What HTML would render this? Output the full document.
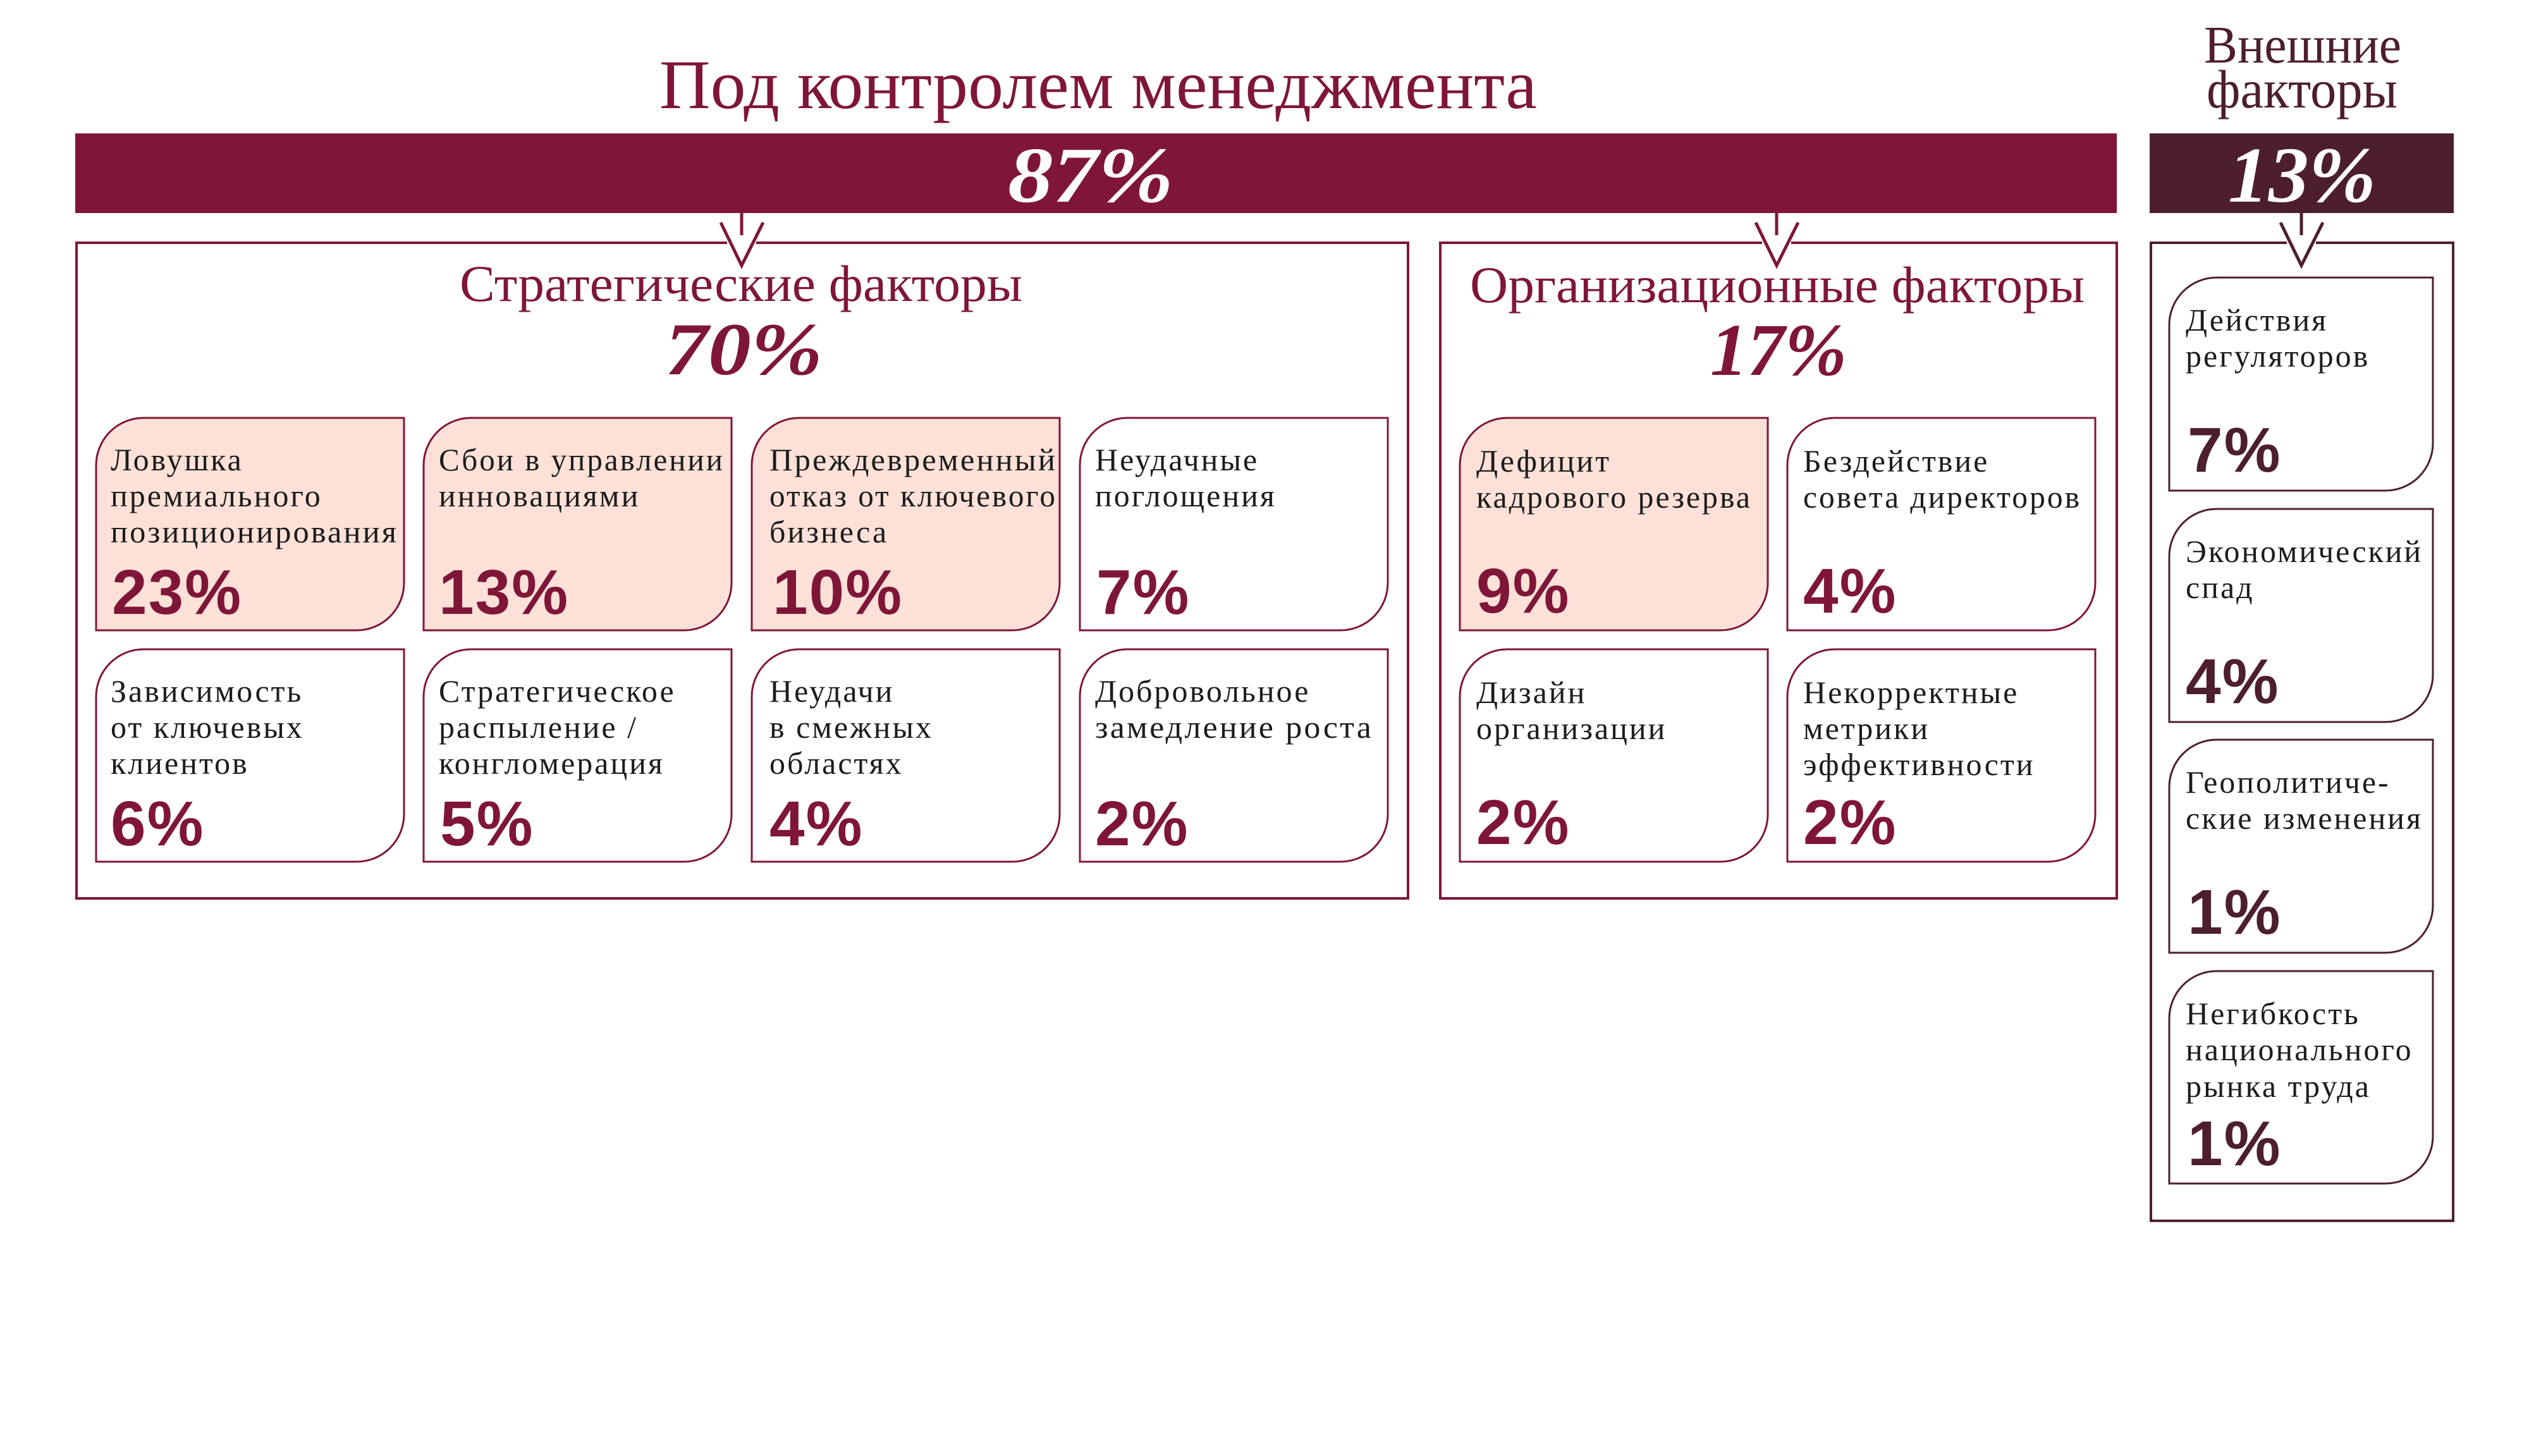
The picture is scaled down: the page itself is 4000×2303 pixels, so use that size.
<!DOCTYPE html>
<html><head><meta charset="utf-8"><style>
html,body{margin:0;padding:0;background:#fff;}
svg{display:block;}
.lab{font-family:"Liberation Serif",serif;font-size:50px;fill:#1c1c1c;letter-spacing:3px;}
.pct{font-family:"Liberation Sans",sans-serif;font-weight:bold;font-size:100px;fill:#7f1637;letter-spacing:2px;}
.pcte{font-family:"Liberation Sans",sans-serif;font-weight:bold;font-size:100px;fill:#4d1e30;letter-spacing:2px;}
.big{font-family:"Liberation Serif",serif;font-weight:bold;font-style:italic;}
.ttl{font-family:"Liberation Serif",serif;fill:#7f1637;}
</style></head><body>
<svg width="4000" height="2303" viewBox="0 0 4000 2303" xmlns="http://www.w3.org/2000/svg">
<rect width="4000" height="2303" fill="#fff"/>
<text class="ttl" x="1043" y="171" font-size="110" textLength="1388" lengthAdjust="spacingAndGlyphs">Под контролем менеджмента</text>
<text class="ttl" x="3486" y="99" font-size="84" textLength="312" lengthAdjust="spacingAndGlyphs" style="fill:#4d1e30">Внешние</text>
<text class="ttl" x="3490" y="170" font-size="86" textLength="302" lengthAdjust="spacingAndGlyphs" style="fill:#4d1e30">факторы</text>
<rect x="119" y="211" width="3229" height="126" fill="#7f1637"/>
<rect x="3400" y="211" width="481" height="126" fill="#4d1e30"/>
<text class="big" x="1594" y="319" font-size="125" fill="#fff" textLength="262" lengthAdjust="spacingAndGlyphs">87%</text>
<text class="big" x="3524" y="319" font-size="125" fill="#fff" textLength="234" lengthAdjust="spacingAndGlyphs">13%</text>
<g fill="none" stroke="#7f1637" stroke-width="4">
<rect x="121" y="384" width="2106" height="1037"/>
<rect x="2278" y="384" width="1070" height="1037"/>
<rect x="3402" y="384" width="478" height="1547" stroke="#4d1e30"/>
</g>
<g stroke-width="5" fill="none">
<g stroke="#7f1637">
<rect x="1150" y="378" width="46" height="10" fill="#fff" stroke="none"/>
<line x1="1173" y1="337" x2="1173" y2="372"/><polyline points="1140,352 1173,420 1207,352"/>
<rect x="2787" y="378" width="46" height="10" fill="#fff" stroke="none"/>
<line x1="2810" y1="337" x2="2810" y2="372"/><polyline points="2777,352 2810,420 2844,352"/>
</g>
<g stroke="#4d1e30">
<rect x="3617" y="378" width="46" height="10" fill="#fff" stroke="none"/>
<line x1="3640" y1="337" x2="3640" y2="372"/><polyline points="3607,352 3640,420 3674,352"/>
</g>
</g>
<text class="ttl" x="727" y="476" font-size="82" textLength="890" lengthAdjust="spacingAndGlyphs">Стратегические факторы</text>
<text class="big" x="1052" y="592" font-size="118" fill="#7f1637" textLength="249" lengthAdjust="spacingAndGlyphs">70%</text>
<text class="ttl" x="2325" y="478" font-size="82" textLength="972" lengthAdjust="spacingAndGlyphs">Организационные факторы</text>
<text class="big" x="2705" y="593" font-size="118" fill="#7f1637" textLength="216" lengthAdjust="spacingAndGlyphs">17%</text>

<g stroke="#7f1637" stroke-width="3">
<path d="M152,997 V736 A75,75 0 0 1 227,661 H639 V922 A75,75 0 0 1 564,997 Z" fill="#fde1d8"/>
<path d="M670,997 V736 A75,75 0 0 1 745,661 H1157 V922 A75,75 0 0 1 1082,997 Z" fill="#fde1d8"/>
<path d="M1189,997 V736 A75,75 0 0 1 1264,661 H1676 V922 A75,75 0 0 1 1601,997 Z" fill="#fde1d8"/>
<path d="M1708,997 V736 A75,75 0 0 1 1783,661 H2195 V922 A75,75 0 0 1 2120,997 Z" fill="#fff"/>
<path d="M152,1363 V1102 A75,75 0 0 1 227,1027 H639 V1288 A75,75 0 0 1 564,1363 Z" fill="#fff"/>
<path d="M670,1363 V1102 A75,75 0 0 1 745,1027 H1157 V1288 A75,75 0 0 1 1082,1363 Z" fill="#fff"/>
<path d="M1189,1363 V1102 A75,75 0 0 1 1264,1027 H1676 V1288 A75,75 0 0 1 1601,1363 Z" fill="#fff"/>
<path d="M1708,1363 V1102 A75,75 0 0 1 1783,1027 H2195 V1288 A75,75 0 0 1 2120,1363 Z" fill="#fff"/>
<path d="M2309,997 V736 A75,75 0 0 1 2384,661 H2796 V922 A75,75 0 0 1 2721,997 Z" fill="#fde1d8"/>
<path d="M2827,997 V736 A75,75 0 0 1 2902,661 H3314 V922 A75,75 0 0 1 3239,997 Z" fill="#fff"/>
<path d="M2309,1363 V1102 A75,75 0 0 1 2384,1027 H2796 V1288 A75,75 0 0 1 2721,1363 Z" fill="#fff"/>
<path d="M2827,1363 V1102 A75,75 0 0 1 2902,1027 H3314 V1288 A75,75 0 0 1 3239,1363 Z" fill="#fff"/>
</g>
<g stroke="#4d1e30" stroke-width="3" fill="#fff">
<path d="M3431,776 V514 A75,75 0 0 1 3506,439 H3848 V701 A75,75 0 0 1 3773,776 Z"/>
<path d="M3431,1142 V880 A75,75 0 0 1 3506,805 H3848 V1067 A75,75 0 0 1 3773,1142 Z"/>
<path d="M3431,1507 V1245 A75,75 0 0 1 3506,1170 H3848 V1432 A75,75 0 0 1 3773,1507 Z"/>
<path d="M3431,1872 V1611 A75,75 0 0 1 3506,1536 H3848 V1797 A75,75 0 0 1 3773,1872 Z"/>
</g>

<text class="lab" x="175" y="744">Ловушка</text>
<text class="lab" x="175" y="801">премиального</text>
<text class="lab" x="175" y="858" textLength="455" lengthAdjust="spacingAndGlyphs">позиционирования</text>
<text class="pct" x="177" y="971">23%</text>
<text class="lab" x="694" y="744" textLength="452" lengthAdjust="spacingAndGlyphs">Сбои в управлении</text>
<text class="lab" x="694" y="801">инновациями</text>
<text class="pct" x="694" y="971">13%</text>
<text class="lab" x="1217" y="744" textLength="455" lengthAdjust="spacingAndGlyphs">Преждевременный</text>
<text class="lab" x="1217" y="801" textLength="455" lengthAdjust="spacingAndGlyphs">отказ от ключевого</text>
<text class="lab" x="1217" y="858">бизнеса</text>
<text class="pct" x="1222" y="971">10%</text>
<text class="lab" x="1732" y="744">Неудачные</text>
<text class="lab" x="1732" y="801">поглощения</text>
<text class="pct" x="1734" y="971">7%</text>

<text class="lab" x="175" y="1110">Зависимость</text>
<text class="lab" x="175" y="1167">от ключевых</text>
<text class="lab" x="175" y="1224">клиентов</text>
<text class="pct" x="175" y="1337">6%</text>
<text class="lab" x="694" y="1110">Стратегическое</text>
<text class="lab" x="694" y="1167">распыление /</text>
<text class="lab" x="694" y="1224">конгломерация</text>
<text class="pct" x="696" y="1337">5%</text>
<text class="lab" x="1217" y="1110">Неудачи</text>
<text class="lab" x="1217" y="1167">в смежных</text>
<text class="lab" x="1217" y="1224">областях</text>
<text class="pct" x="1217" y="1337">4%</text>
<text class="lab" x="1732" y="1110">Добровольное</text>
<text class="lab" x="1732" y="1167" textLength="440" lengthAdjust="spacingAndGlyphs">замедление роста</text>
<text class="pct" x="1732" y="1337">2%</text>

<text class="lab" x="2335" y="746">Дефицит</text>
<text class="lab" x="2335" y="803" textLength="436" lengthAdjust="spacingAndGlyphs">кадрового резерва</text>
<text class="pct" x="2335" y="969">9%</text>
<text class="lab" x="2852" y="746">Бездействие</text>
<text class="lab" x="2852" y="803" textLength="440" lengthAdjust="spacingAndGlyphs">совета директоров</text>
<text class="pct" x="2852" y="969">4%</text>
<text class="lab" x="2335" y="1112">Дизайн</text>
<text class="lab" x="2335" y="1169">организации</text>
<text class="pct" x="2335" y="1335">2%</text>
<text class="lab" x="2852" y="1112">Некорректные</text>
<text class="lab" x="2852" y="1169">метрики</text>
<text class="lab" x="2852" y="1226">эффективности</text>
<text class="pct" x="2852" y="1335">2%</text>

<text class="lab" x="3457" y="523">Действия</text>
<text class="lab" x="3457" y="580">регуляторов</text>
<text class="pcte" x="3460" y="746">7%</text>
<text class="lab" x="3457" y="889" textLength="375" lengthAdjust="spacingAndGlyphs">Экономический</text>
<text class="lab" x="3457" y="946">спад</text>
<text class="pcte" x="3457" y="1112">4%</text>
<text class="lab" x="3457" y="1254">Геополитиче-</text>
<text class="lab" x="3457" y="1311" textLength="375" lengthAdjust="spacingAndGlyphs">ские изменения</text>
<text class="pcte" x="3460" y="1477">1%</text>
<text class="lab" x="3457" y="1620">Негибкость</text>
<text class="lab" x="3457" y="1677">национального</text>
<text class="lab" x="3457" y="1735">рынка труда</text>
<text class="pcte" x="3460" y="1843">1%</text>
</svg>
</body></html>
